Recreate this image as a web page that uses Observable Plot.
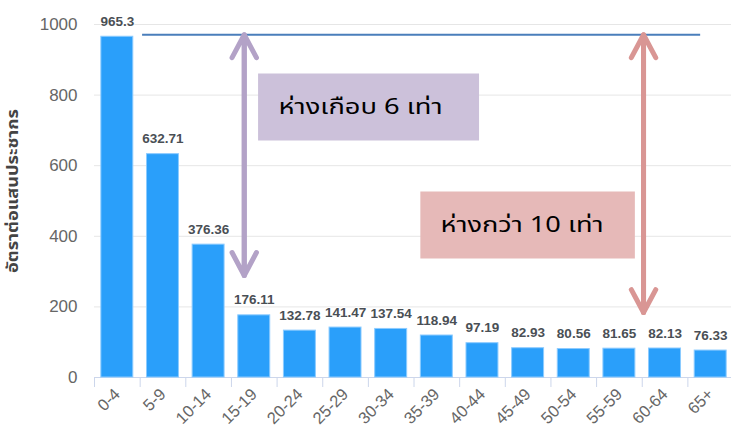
<!DOCTYPE html>
<html>
<head>
<meta charset="utf-8">
<script src="https://cdn.jsdelivr.net/npm/d3@7"></script>
<script src="https://cdn.jsdelivr.net/npm/@observablehq/plot@0.6"></script>
<style>
  html, body { margin: 0; padding: 0; background: #fff; }
</style>
</head>
<body>
<div id="chart"></div>
<script>
const categories = ["0-4", "5-9", "10-14", "15-19", "20-24", "25-29", "30-34", "35-39", "40-44", "45-49", "50-54", "55-59", "60-64", "65+"];
const values = [965.3, 632.71, 376.36, 176.11, 132.78, 141.47, 137.54, 118.94, 97.19, 82.93, 80.56, 81.65, 82.13, 76.33];
const yTicks = [0, 200, 400, 600, 800, 1000];
const yLabel = "อัตราต่อแสนประชากร";
const refLevel = [971];
const noteTexts = ["ห่างเกือบ 6 เท่า", "ห่างกว่า 10 เท่า"];
const noteLevels = [766, 432];
const arrowEnds = [289, 184];

const data = categories.map((c, i) => ({age: c, rate: values[i]}));

const thai = "Tahoma, 'Noto Sans Thai', 'Liberation Sans', 'DejaVu Sans', sans-serif";
const cat = (c) => () => c;

const chart = Plot.plot({
  width: 731,
  height: 432,
  marginLeft: 94,
  marginRight: -2,
  marginTop: 24,
  marginBottom: 55,
  style: {fontFamily: "'Liberation Sans', Arial, sans-serif", background: "#fff", overflow: "visible"},
  x: {domain: categories, paddingInner: 0.3, paddingOuter: 0.15, round: false},
  y: {domain: [0, 1000]},
  marks: [
    Plot.gridY(yTicks, {stroke: "#e6e6e6", strokeOpacity: 1, strokeWidth: 1}),
    Plot.axisY(yTicks, {tickSize: 0, tickPadding: 17, fontSize: 17, fill: "#666", label: null, tickFormat: d => String(d)}),
    Plot.axisX({tickSize: 10, tickFormat: () => "", dx: -22.8, stroke: "#ccd6eb", label: null}),
    Plot.axisX({tickSize: 0, tickPadding: 14, tickRotate: -45, fontSize: 16.5, fill: "#666", label: null}),
    Plot.ruleY([0], {stroke: "#ccd6eb"}),
    Plot.barY(data, {x: "age", y: "rate", fill: "#2a9ffa", stroke: "#8ccbff", strokeWidth: 1}),
    Plot.text(data, {x: "age", y: "rate", text: d => String(d.rate), dy: -11, lineAnchor: "bottom",
      fontWeight: "bold", fontSize: 13.5, fill: "#4a4f55", stroke: "#fff", strokeWidth: 1.5, paintOrder: "stroke"}),
    Plot.text([yLabel], {frameAnchor: "left", textAnchor: "middle", lineAnchor: "middle", rotate: -90,
      dx: -81, dy: -10, fontWeight: "bold", fontSize: 15, fill: "#444", fontFamily: thai, className: "ytitle"}),
    // reference line
    Plot.ruleY(refLevel, {x1: cat("5-9"), x2: cat("65+"), insetLeft: -4.4, insetRight: 26, stroke: "#4a7ebb", strokeWidth: 2}),
    // note boxes
    Plot.ruleY([noteLevels[0]], {x1: cat("15-19"), x2: cat("40-44"), insetLeft: 20.3, insetRight: 18.9, stroke: "#ccc1da", strokeWidth: 67}),
    Plot.ruleY([noteLevels[1]], {x1: cat("35-39"), x2: cat("55-59"), insetLeft: 0, insetRight: 0, stroke: "#e6b9b8", strokeWidth: 67}),
    Plot.text([noteTexts[0]], {x: cat("15-19"), y: () => noteLevels[0], dx: 24.3, textAnchor: "start", lineAnchor: "middle",
      fontSize: 22, fill: "#000", fontFamily: thai, className: "note1"}),
    Plot.text([noteTexts[1]], {x: cat("35-39"), y: () => noteLevels[1], dx: 3.7, textAnchor: "start", lineAnchor: "middle",
      fontSize: 21, fill: "#000", fontFamily: thai, className: "note2"}),
    // double arrows
    Plot.arrow([0, 1], {x1: cat("15-19"), x2: cat("15-19"), y1: i => i ? arrowEnds[0] : refLevel[0], y2: i => i ? refLevel[0] : arrowEnds[0],
      dx: -10, stroke: "#b3a2c7", strokeWidth: 5, headAngle: 56, headLength: 7.8, strokeLinecap: "round"}),
    Plot.arrow([0, 1], {x1: cat("60-64"), x2: cat("60-64"), y1: i => i ? arrowEnds[1] : refLevel[0], y2: i => i ? refLevel[0] : arrowEnds[1],
      dx: -21.5, stroke: "#d99694", strokeWidth: 5, headAngle: 56, headLength: 7.8, strokeLinecap: "round"})
  ]
});

// widen the Thai texts to the reference's glyph widths
const svg = d3.select(chart);
svg.selectAll(".ytitle text").attr("textLength", 164).attr("lengthAdjust", "spacingAndGlyphs");
svg.selectAll(".note1 text").attr("textLength", 164).attr("lengthAdjust", "spacingAndGlyphs");
svg.selectAll(".note2 text").attr("textLength", 163).attr("lengthAdjust", "spacingAndGlyphs");

document.getElementById("chart").appendChild(chart);
</script>
</body>
</html>
